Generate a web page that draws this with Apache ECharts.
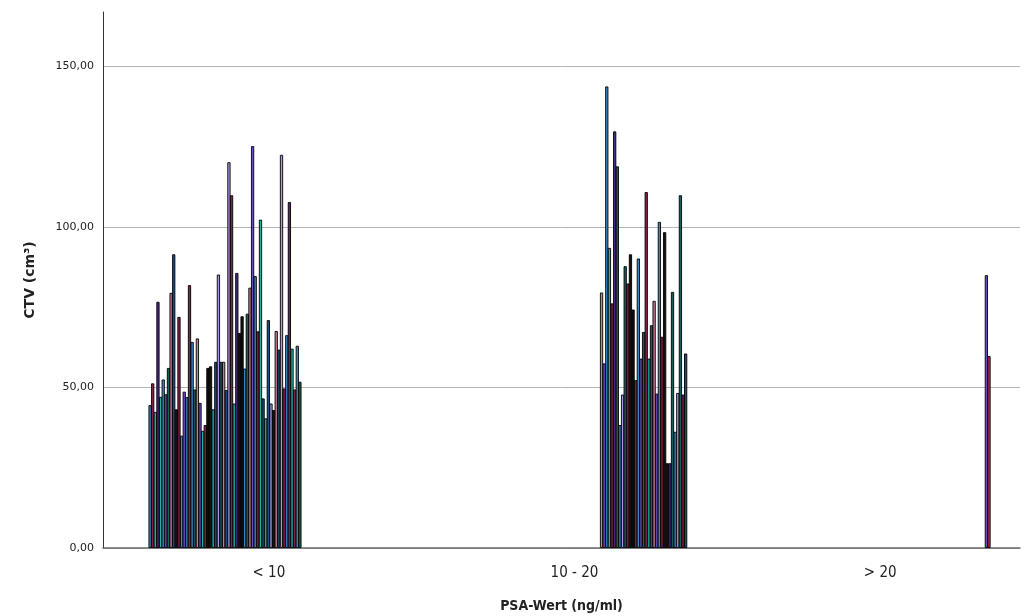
<!DOCTYPE html>
<html>
<head>
<meta charset="utf-8">
<style>
  html, body { margin: 0; padding: 0; background: #fff; }
  #chart { width: 1026px; height: 616px; }
</style>
<script src="https://cdn.jsdelivr.net/npm/echarts@6/dist/echarts.min.js"></script>
</head>
<body>
<div id="chart"></div>
<script>
var categories = ['< 10', '10 - 20', '> 20'];
var yTicks = [0, 50, 100, 150];

// CTV per patient, in the order the bars appear in each PSA group
var ctvLow = [44.5, 51.3, 42.4, 76.7, 47.1, 52.5, 47.9, 56.1, 79.5, 91.5,
  43.2, 72.0, 35.0, 48.7, 47.0, 81.9, 64.2, 49.4, 65.3, 45.2,
  36.5, 38.3, 56.1, 56.6, 43.2, 58.0, 85.2, 58.0, 58.0, 49.2,
  120.2, 109.9, 45.0, 85.7, 67.0, 72.2, 55.9, 73.0, 81.1, 125.2,
  84.7, 67.5, 102.3, 46.6, 40.4, 71.0, 45.0, 43.0, 67.6, 61.8,
  122.5, 49.7, 66.3, 107.8, 62.1, 49.4, 63.0, 51.8];
var ctvMid = [79.6, 57.5, 143.8, 93.5, 76.2, 129.8, 118.9, 38.3, 47.8, 87.8,
  82.4, 91.5, 74.3, 52.3, 90.2, 59.0, 67.3, 110.9, 59.0, 69.4,
  77.0, 48.1, 101.6, 65.8, 98.4, 26.4, 26.4, 79.8, 36.2, 48.3,
  109.9, 47.8, 60.6];
var ctvHigh = [85.0, 59.8];

(function() {
  var palette = {
    b: '#3b88c6', t: '#22b3a3', g: '#1b5f5b', m: '#8c1f4d', p: '#4a2a86',
    v: '#6b4ec6', l: '#ab98e2', k: '#111111', n: '#1c4e7a', r: '#c97c93', c: '#d02257'
  };
  var colorKeys = [
    'bmtptbvgrnkmbvbmbgrvtmkktnlgrnlmtpkkbgrvbmtntnlkrnlmbptmbg',
    'rvbtmpgblgmkkmbvgmtgrvbmkkpgblgmn',
    'vc'
  ];
  var groups = [ctvLow, ctvMid, ctvHigh];
  var groupStart = [0.154, 0.631, 0.890];
  var slot = 0.0086;

  var bars = [];
  groups.forEach(function(vals, g) {
    vals.forEach(function(v, i) {
      bars.push({
        value: [g + groupStart[g] + i * slot, v],
        itemStyle: { color: palette[colorKeys[g].charAt(i)] }
      });
    });
  });

  var grid = '#b4b4b4';
  var chart = echarts.init(document.getElementById('chart'));
  chart.setOption({
    animation: false,
    grid: { left: 103, right: 6, top: 12, bottom: 68, outerBoundsMode: 'none' },
    xAxis: [{
      type: 'category',
      data: categories,
      name: 'PSA-Wert (ng/ml)',
      nameLocation: 'middle',
      nameGap: 51,
      nameTextStyle: { fontFamily: 'DejaVu Sans Condensed', fontWeight: 'bold', fontSize: 14, color: '#222' },
      axisLine: { lineStyle: { color: '#6a6a6a', width: 1.5 } },
      axisTick: { show: false },
      axisLabel: { margin: 18, fontFamily: 'DejaVu Sans Condensed', fontSize: 15, color: '#222', padding: [0, 0, 0, 26] }
    }, {
      type: 'value',
      min: 0,
      max: 3,
      show: false
    }],
    yAxis: {
      type: 'value',
      min: 0,
      max: 167,
      interval: 50,
      name: 'CTV (cm³)',
      nameLocation: 'middle',
      nameGap: 66,
      nameTextStyle: { fontFamily: 'DejaVu Sans', fontWeight: 'bold', fontSize: 14, color: '#222' },
      axisLine: { show: true, lineStyle: { color: '#333', width: 1 } },
      axisTick: { show: false },
      axisLabel: {
        margin: 9,
        fontFamily: 'DejaVu Sans',
        fontSize: 11,
        color: '#222',
        showMaxLabel: false,
        formatter: function(v) {
          return yTicks.indexOf(v) >= 0 ? v.toFixed(2).replace('.', ',') : '';
        }
      },
      splitLine: { lineStyle: { color: [grid, grid, grid, grid, 'rgba(0,0,0,0)'], width: 1 } }
    },
    series: [{
      type: 'bar',
      xAxisIndex: 1,
      barWidth: 3.2,
      itemStyle: { borderColor: '#000', borderWidth: 0.9 },
      data: bars
    }]
  });
  window.addEventListener('resize', function() { chart.resize(); });
})();
</script>
</body>
</html>
